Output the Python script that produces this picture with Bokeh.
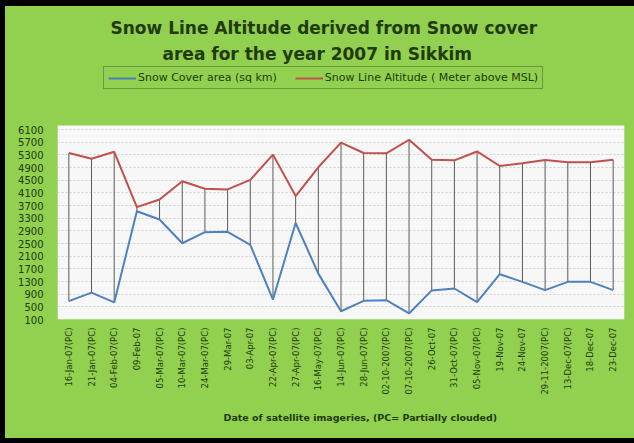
from bokeh.plotting import figure
from bokeh.models import (FactorRange, Range1d, FixedTicker, Legend, LegendItem,
                          Title, BoxAnnotation, ColumnDataSource)
from bokeh.layouts import column
from bokeh.embed import file_html
from bokeh.resources import INLINE
from math import pi

dates = ["16-Jan-07(PC)", "21-Jan-07(PC)", "04-Feb-07(PC)", "09-Feb-07", "05-Mar-07(PC)",
         "10-Mar-07(PC)", "24-Mar-07(PC)", "29-Mar-07", "03-Apr-07", "22-Apr-07(PC)",
         "27-Apr-07(PC)", "16-May-07(PC)", "14-Jun-07(PC)", "28-Jun-07(PC)", "02-10-2007(PC)",
         "07-10-2007(PC)", "26-Oct-07", "31-Oct-07(PC)", "05-Nov-07(PC)", "19-Nov-07",
         "24-Nov-07", "29-11-2007(PC)", "13-Dec-07(PC)", "18-Dec-07", "23-Dec-07"]
snow_cover = [680, 950, 640, 3520, 3260, 2510, 2860, 2870, 2460, 730,
              3150, 1550, 360, 690, 710, 290, 1020, 1080, 650, 1530,
              1290, 1030, 1290, 1290, 1030]
snow_line = [5360, 5180, 5400, 3650, 3890, 4470, 4230, 4210, 4510, 5310,
             4000, 4910, 5690, 5360, 5350, 5780, 5150, 5130, 5410, 4950,
             5040, 5140, 5070, 5070, 5150]
y_ticks = [100, 500, 900, 1300, 1700, 2100, 2500, 2900, 3300, 3700,
           4100, 4500, 4900, 5300, 5700, 6100]
axis_min, axis_max = 100, 6230

GREEN = "#92D050"
TXT = "#213a0e"
BLUE = "#4F81BD"
RED = "#C0504D"

src = ColumnDataSource(dict(x=dates, cover=snow_cover, line=snow_line))

# frame extends upward over the legend area; the white plot area is a box annotation
p = figure(width=629, height=432, x_range=FactorRange(*dates), y_range=Range1d(axis_min, 8094),
           output_backend="svg", toolbar_location=None,
           min_border_left=52, min_border_right=10, min_border_top=60, min_border_bottom=119)
p.border_fill_color = GREEN
p.background_fill_color = GREEN
p.outline_line_color = None

p.add_layout(BoxAnnotation(bottom=axis_min, top=axis_max, level="image",
                           fill_color="#F7F7F7", fill_alpha=1,
                           line_color="#D8D8D8", line_width=1))

p.xgrid.grid_line_color = None
p.ygrid.ticker = FixedTicker(ticks=y_ticks)
p.ygrid.grid_line_color = "#CFCFCF"
p.ygrid.grid_line_dash = "2 2"

p.yaxis.ticker = FixedTicker(ticks=y_ticks)
for ax in (p.xaxis, p.yaxis):
    ax.axis_line_color = None
    ax.major_tick_line_color = None
    ax.minor_tick_line_color = None
    ax.major_tick_out = 0
    ax.major_tick_in = 0
    ax.major_label_text_color = TXT
    ax.major_label_text_font = "DejaVu Sans"
p.yaxis.major_label_text_font_size = "10px"
p.yaxis.major_label_standoff = 14
p.xaxis.major_label_text_font_size = "8.5px"
p.xaxis.major_label_orientation = pi / 2
p.xaxis.major_label_standoff = 8

p.segment(x0="x", y0="cover", x1="x", y1="line", source=src, line_color="#5a5a5a", line_width=1)
r_cover = p.line("x", "cover", source=src, line_color=BLUE, line_width=2)
r_line = p.line("x", "line", source=src, line_color=RED, line_width=2)

legend = Legend(items=[LegendItem(label="Snow Cover area (sq km)", renderers=[r_cover]),
                       LegendItem(label="Snow Line Altitude ( Meter above MSL)", renderers=[r_line])],
                location=(46, 230), orientation="horizontal", margin=0, padding=4, spacing=18,
                glyph_width=28, glyph_height=10, label_standoff=2,
                label_text_font="DejaVu Sans", label_text_font_size="11px",
                label_text_color=TXT, label_height=11,
                background_fill_alpha=0, border_line_color="#3f5f2a", border_line_width=1)
p.add_layout(legend)

p.add_layout(Title(text="area for the year 2007 in Sikkim", align="left", offset=105, standoff=5,
                   text_font="DejaVu Sans", text_font_style="bold", text_font_size="17px",
                   text_color=TXT), "above")
p.add_layout(Title(text="Snow Line Altitude derived from Snow cover", align="left", offset=53,
                   standoff=4,
                   text_font="DejaVu Sans", text_font_style="bold", text_font_size="17px",
                   text_color=TXT), "above")

p.add_layout(Title(text="Date of satellite imageries, (PC=  Partially clouded)", align="left",
                   offset=166, standoff=24,
                   text_font="DejaVu Sans", text_font_style="bold", text_font_size="9.5px",
                   text_color=TXT), "below")

layout = column(p, styles={"background-color": GREEN, "border-top": "6px solid black",
                           "border-left": "5px solid black", "border-bottom": "5px solid black"})

open("out.html", "w").write(file_html(layout, INLINE))
